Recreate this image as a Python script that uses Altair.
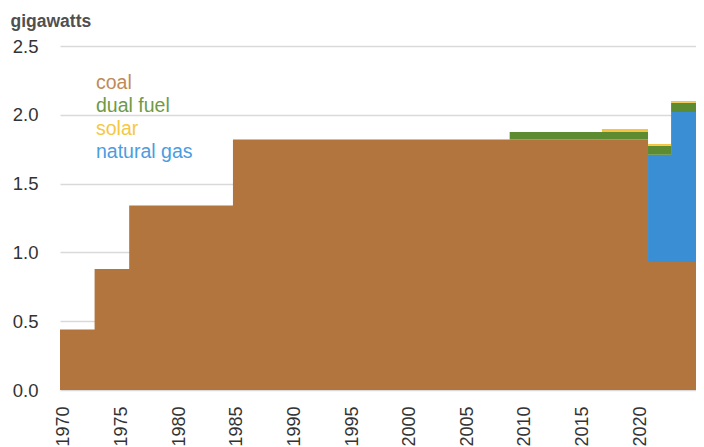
import altair as alt
import pandas as pd

# ---- data (gigawatts), as year ranges ----
series_order = ["coal", "natural gas", "dual fuel", "solar"]   # stacking order bottom->top
legend_labels = ["coal", "dual fuel", "solar", "natural gas"]
colors = {"coal": "#B2753E", "dual fuel": "#5C8B32", "solar": "#F5C53F", "natural gas": "#3A8FD4"}
legend_colors = {"coal": "#C08A5A", "dual fuel": "#6E9A45", "solar": "#F5C842", "natural gas": "#4A9DE0"}

# (first year, last year, value)
coal_segments = [(1970, 1972, 0.44), (1973, 1975, 0.88), (1976, 1984, 1.34),
                 (1985, 2020, 1.82), (2021, 2025, 0.93)]
gas_segments = [(2021, 2022, 0.78), (2023, 2025, 1.09)]
dual_segments = [(2009, 2020, 0.055), (2021, 2022, 0.065), (2023, 2025, 0.068)]
solar_segments = [(2017, 2020, 0.022), (2021, 2022, 0.012), (2023, 2025, 0.013)]

first_year, last_year = 1970, 2025
x_ticks = list(range(1970, 2026, 5))
y_ticks = [0.0, 0.5, 1.0, 1.5, 2.0, 2.5]

segments = {"coal": coal_segments, "natural gas": gas_segments,
            "dual fuel": dual_segments, "solar": solar_segments}


def value_for(series, year):
    for a, b, v in segments[series]:
        if a <= year <= b:
            return v
    return 0.0


rows = []
for s_i, s in enumerate(series_order):
    for yr in range(first_year, last_year + 1):
        rows.append({"edge": yr - 0.5, "series": s, "gw": value_for(s, yr), "ord": s_i})
    rows.append({"edge": last_year + 0.5, "series": s, "gw": value_for(s, last_year), "ord": s_i})
df = pd.DataFrame(rows)

W, H = 636, 344
PX_PER_YEAR = 11.53
x_max = first_year - 0.5 + W / PX_PER_YEAR   # the reference is cropped just past 2025
FONT = "Liberation Sans"

area = alt.Chart(df).mark_area(interpolate="step-after", clip=True).encode(
    x=alt.X("edge:Q",
            scale=alt.Scale(domain=[first_year - 0.5, x_max], nice=False, zero=False),
            axis=alt.Axis(values=x_ticks, format="d", labelAngle=270, ticks=False, domain=False,
                          grid=False, labelPadding=16, labelOffset=-2, labelFontSize=18,
                          labelColor="#333333", labelFont=FONT, title=None, labelOverlap=False,
                          labelBound=False, labelFlush=False)),
    y=alt.Y("gw:Q", stack="zero",
            scale=alt.Scale(domain=[0, 2.5], nice=False),
            axis=alt.Axis(values=y_ticks, format=".1f", ticks=False, domain=False,
                          grid=True, gridColor="#D9D9D9", gridWidth=1.5,
                          labelPadding=22, labelFontSize=18.5, labelColor="#333333", labelFont=FONT,
                          title="gigawatts", titleAngle=0, titleAlign="left", titleBaseline="alphabetic",
                          titleX=-50, titleY=-20, titleFontSize=17.5, titleFontWeight="bold",
                          titleColor="#505050", titleFont=FONT)),
    color=alt.Color("series:N", scale=alt.Scale(domain=series_order,
                                               range=[colors[s] for s in series_order]),
                    legend=None),
    order=alt.Order("ord:Q"),
)

layers = [area]
for i, lab in enumerate(legend_labels):
    t = alt.Chart(pd.DataFrame({"label": [lab]})).mark_text(
        align="left", baseline="middle", fontSize=19.5, font=FONT, color=legend_colors[lab]
    ).encode(x=alt.value(36), y=alt.value(37 + i * 23), text="label:N")
    layers.append(t)

chart = alt.layer(*layers).properties(
    width=W, height=H,
    autosize=alt.AutoSizeParams(type="none"),
    padding={"left": 52, "top": 38, "right": 0, "bottom": 57},
    background="white",
).configure_view(strokeWidth=0)

chart.save("out.html", embed_options={"renderer": "svg", "actions": False})
